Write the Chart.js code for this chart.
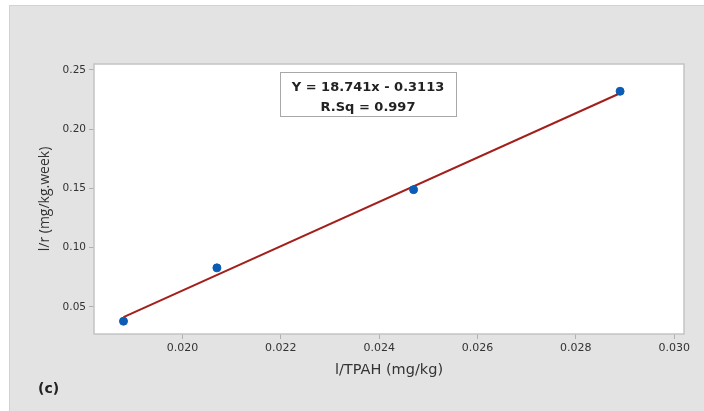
<!DOCTYPE html>
<html>
<head>
<meta charset="utf-8">
<script src="https://cdn.jsdelivr.net/npm/chart.js@4"></script>
<style>
  body { margin: 0; background: #fff; }
  canvas { display: block; }
</style>
</head>
<body>
<canvas id="chart" width="704" height="411"></canvas>
<script>
// values
const tpahInv = [0.0188, 0.0207, 0.0247, 0.0289];
const rateInv = [0.038, 0.083, 0.149, 0.232];
const fitX = [0.0188, 0.0289];
const fitY = [0.0415, 0.2303];
const xTicks = [0.020, 0.022, 0.024, 0.026, 0.028, 0.030];
const yTicks = [0.05, 0.10, 0.15, 0.20, 0.25];
const eqLines = ["Y = 18.741x - 0.3113", "R.Sq = 0.997"];
const panelLabel = "(c)";

const WIDE = "'DejaVu Sans', sans-serif";
const NARROW = "'Open Sans', 'Noto Sans', sans-serif";

const framePlugin = {
  id: "frame",
  beforeDraw(chart) {
    const { ctx, chartArea: a } = chart;
    ctx.save();
    ctx.fillStyle = "#fff";
    ctx.fillRect(0, 0, chart.width, chart.height);
    ctx.fillStyle = "#e3e3e3";
    ctx.fillRect(9, 5, chart.width - 9, chart.height - 5);
    ctx.strokeStyle = "#d2d2d2";
    ctx.lineWidth = 1;
    ctx.beginPath();
    ctx.moveTo(9.5, chart.height);
    ctx.lineTo(9.5, 5.5);
    ctx.lineTo(chart.width, 5.5);
    ctx.stroke();
    ctx.fillStyle = "#fff";
    ctx.fillRect(a.left, a.top, a.right - a.left, a.bottom - a.top);
    ctx.restore();
  },
  afterDraw(chart) {
    const { ctx, chartArea: a } = chart;
    ctx.save();
    ctx.strokeStyle = "#c4c4c4";
    ctx.lineWidth = 1.5;
    ctx.strokeRect(a.left, a.top, a.right - a.left, a.bottom - a.top);

    // equation box
    const bx = a.left + 186, by = a.top + 8, bw = 176, bh = 44;
    ctx.fillStyle = "#fff";
    ctx.fillRect(bx, by, bw, bh);
    ctx.strokeStyle = "#a8a8a8";
    ctx.lineWidth = 1;
    ctx.strokeRect(bx + 0.5, by + 0.5, bw, bh);
    ctx.fillStyle = "#222";
    ctx.textAlign = "center";
    ctx.textBaseline = "middle";
    ctx.font = "bold 13px " + WIDE;
    ctx.fillText(eqLines[0], bx + bw / 2, by + 16);
    ctx.fillText(eqLines[1], bx + bw / 2, by + 36);

    ctx.textAlign = "left";
    ctx.font = "bold 14px " + WIDE;
    ctx.fillText(panelLabel, 38, 389);
    ctx.restore();
  }
};

const useTicks = (list) => (scale) => {
  scale.ticks = list.map((v) => ({ value: v }));
};

new Chart(document.getElementById("chart"), {
  type: "scatter",
  data: {
    datasets: [
      {
        label: "data",
        data: tpahInv.map((x, i) => ({ x: x, y: rateInv[i] })),
        backgroundColor: "#0b5cb5",
        borderColor: "#0b5cb5",
        pointRadius: 4,
        order: 0
      },
      {
        label: "fit",
        type: "line",
        data: fitX.map((x, i) => ({ x: x, y: fitY[i] })),
        borderColor: "#a31f1c",
        borderWidth: 2,
        pointRadius: 0,
        fill: false,
        order: 1
      }
    ]
  },
  plugins: [framePlugin],
  options: {
    responsive: false,
    animation: false,
    layout: { padding: { left: 0, top: 64, right: 20, bottom: 0 } },
    plugins: {
      legend: { display: false },
      tooltip: { enabled: false }
    },
    scales: {
      x: {
        type: "linear",
        bounds: "data",
        min: 0.0182,
        max: 0.0302,
        afterFit: (s) => { s.height = 77; },
        afterBuildTicks: useTicks(xTicks),
        ticks: {
          padding: 3,
          color: "#333",
          font: { family: WIDE, size: 11 },
          callback: (v) => v.toFixed(3)
        },
        grid: { drawOnChartArea: false, tickLength: 5, color: "#b0b0b0" },
        border: { display: false },
        title: {
          display: true,
          text: "l/TPAH (mg/kg)",
          color: "#333",
          font: { family: WIDE, size: 14.5 },
          padding: { top: 0, bottom: 32 }
        }
      },
      y: {
        type: "linear",
        bounds: "data",
        min: 0.0272,
        max: 0.255,
        afterFit: (s) => { s.width = 94; },
        afterBuildTicks: useTicks(yTicks),
        ticks: {
          padding: 3,
          color: "#333",
          font: { family: WIDE, size: 10.5 },
          callback: (v) => v.toFixed(2)
        },
        grid: { drawOnChartArea: false, tickLength: 5, color: "#b0b0b0" },
        border: { display: false },
        title: {
          display: true,
          text: "l/r (mg/kg.week)",
          color: "#333",
          font: { family: NARROW, size: 14 },
          padding: { top: 37, bottom: 0 }
        }
      }
    }
  }
});
</script>
</body>
</html>
